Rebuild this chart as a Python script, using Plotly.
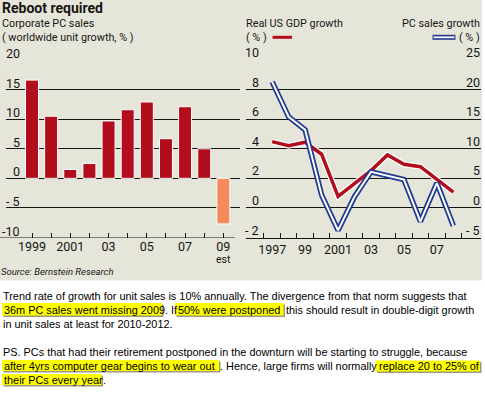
import plotly.graph_objects as go

W, H = 485, 394

# ---------------- data ----------------
bar_years = [1999, 2000, 2001, 2002, 2003, 2004, 2005, 2006, 2007, 2008, 2009]
corp_pc_sales = [16.6, 10.5, 1.5, 2.5, 9.7, 11.6, 12.9, 6.7, 12.1, 5.0, -7.7]
bar_ticktext = ["1999", "", "2001", "", "03", "", "05", "", "07", "", "09"]

line_years = [1997, 1998, 1999, 2000, 2001, 2002, 2003, 2004, 2005, 2006, 2007, 2008]
us_gdp_growth = [4.48, 4.2, 4.44, 3.63, 0.78, 1.68, 2.52, 3.58, 2.95, 2.79, 1.96, 1.06]
pc_sales_growth = [21.3, 15.4, 13.2, 2.2, -3.8, 1.9, 6.1, 5.45, 4.8, -2.3, 4.2, -3.0]
line_tickvals = [1997, 1999, 2001, 2003, 2005, 2007]
line_ticktext = ["1997", "99", "2001", "03", "05", "07"]

left_y_vals = [20, 15, 10, 5, 0, -5, -10]
left_y_text = ["20", "15", "10", "5", "0", "- 5", "-10"]
gdp_y_vals = [10, 8, 6, 4, 2, 0, -2]
gdp_y_text = ["10", "8", "6", "4", "2", "0", "- 2"]
pc_y_vals = [25, 20, 15, 10, 5, 0, -5]
pc_y_text = ["25", "20", "15", "10", "5", "0", "- 5"]

# ---------------- style ----------------
BEIGE = "#E6E5D9"
RED = "#B20D1D"
SALMON = "#F58A5A"
BLUE = "#1F3A8E"
INK = "#151515"
CF = "Roboto, Liberation Sans, Arial, sans-serif"
TF = "Liberation Sans, Arial, sans-serif"

def px(x):
    return x / W

def py(y):
    return 1 - y / H

bar_colors = [RED] * (len(bar_years) - 1) + [SALMON]

fig = go.Figure()
fig.add_bar(x=bar_years, y=corp_pc_sales, marker=dict(color=bar_colors, line=dict(color="white", width=1)),
            width=0.68, xaxis="x", yaxis="y", hoverinfo="skip")
fig.add_scatter(x=line_years, y=pc_sales_growth, mode="lines", line=dict(color=BLUE, width=5.5),
                xaxis="x2", yaxis="y3", hoverinfo="skip")
fig.add_scatter(x=line_years, y=pc_sales_growth, mode="lines", line=dict(color="white", width=2),
                xaxis="x2", yaxis="y3", hoverinfo="skip")
fig.add_scatter(x=line_years, y=us_gdp_growth, mode="lines", line=dict(color="white", width=6),
                xaxis="x2", yaxis="y2", hoverinfo="skip")
fig.add_scatter(x=line_years, y=us_gdp_growth, mode="lines", line=dict(color=RED, width=3.5),
                xaxis="x2", yaxis="y2", hoverinfo="skip")

ydom = [py(237.5), py(60)]
fig.update_layout(
    width=W, height=H, autosize=False,
    margin=dict(l=0, r=0, t=0, b=0),
    paper_bgcolor="white", plot_bgcolor="rgba(0,0,0,0)",
    showlegend=False, bargap=0,
    font=dict(family=CF, color=INK, size=12.5),
    xaxis=dict(domain=[px(6), px(240)], range=[1997.64, 2009.87], anchor="y",
               tickmode="array", tickvals=bar_years, ticktext=bar_ticktext,
               ticks="inside", ticklen=5, tickcolor=INK, tickwidth=1,
               showline=False, showgrid=False, zeroline=False,
               tickfont=dict(size=12.5, family=CF, color=INK)),
    yaxis=dict(domain=ydom, range=[-10, 20], anchor="x",
               tickmode="array", tickvals=[-5, 0, 5, 10, 15, 20],
               showticklabels=False, showgrid=True, gridcolor=INK, gridwidth=1,
               zeroline=False, ticks=""),
    xaxis2=dict(domain=[px(246), px(481)], range=[1995.41, 2009.68], anchor="y2",
                tickmode="array", tickvals=line_tickvals, ticktext=line_ticktext,
                ticks="", showline=True, linecolor=INK, linewidth=1,
                showgrid=False, zeroline=False,
                minor=dict(tickmode="array", tickvals=[y - 0.5 for y in line_years] + [2008.5],
                           ticks="inside", ticklen=5, tickcolor=INK, tickwidth=1, showgrid=False),
                tickfont=dict(size=12.5, family=CF, color=INK)),
    yaxis2=dict(domain=ydom, range=[-2, 10], anchor="x2",
                tickmode="array", tickvals=[0, 2, 4, 6, 8, 10],
                showticklabels=False, showgrid=True, gridcolor=INK, gridwidth=1,
                zeroline=False, ticks=""),
    yaxis3=dict(range=[-5, 25], overlaying="y2", side="right", anchor="x2",
                showticklabels=False, showgrid=False, zeroline=False, ticks=""),
)

shapes = []
# beige chart panel
shapes.append(dict(type="rect", xref="paper", yref="paper", x0=0, x1=px(482), y0=py(280.5), y1=1,
                   fillcolor=BEIGE, line=dict(width=0), layer="below"))
# left chart baseline
shapes.append(dict(type="line", xref="paper", yref="y", x0=0, x1=px(235), y0=-10, y1=-10,
                   line=dict(color=INK, width=1)))
# legend keys
shapes.append(dict(type="line", xref="paper", yref="paper", x0=px(272.5), x1=px(292), y0=py(37.3), y1=py(37.3),
                   line=dict(color=RED, width=3)))
shapes.append(dict(type="line", xref="paper", yref="paper", x0=px(432.5), x1=px(455.5), y0=py(37.3), y1=py(37.3),
                   line=dict(color=BLUE, width=5)))
shapes.append(dict(type="line", xref="paper", yref="paper", x0=px(433.5), x1=px(454.5), y0=py(37.3), y1=py(37.3),
                   line=dict(color="white", width=1.8)))
# yellow highlights (with soft shadow)
highlights = [(2, 162, 303, 315.5), (175, 283.5, 303, 315.5), (2, 219, 360, 371),
              (375.5, 480, 360.5, 371.5), (2, 101.5, 374, 385)]
for x0, x1, y0, y1 in highlights:
    shapes.append(dict(type="rect", xref="paper", yref="paper", x0=px(x0 + 1.5), x1=px(x1 + 1.5),
                       y0=py(y1 + 1.5), y1=py(y0 + 1.5), fillcolor="#9a9a80", line=dict(width=0), layer="below"))
    shapes.append(dict(type="rect", xref="paper", yref="paper", x0=px(x0), x1=px(x1),
                       y0=py(y1), y1=py(y0), fillcolor="#FFFF00", line=dict(width=0), layer="below"))
fig.update_layout(shapes=shapes)

ann = []
def txt(x, y, s, size, anchor="left", fam=CF, yanchor="middle", **kw):
    ann.append(dict(x=px(x), y=py(y), xref="paper", yref="paper", text=s, showarrow=False,
                    xanchor=anchor, yanchor=yanchor, borderpad=0,
                    font=dict(size=size, family=fam, color=kw.pop("color", INK)), **kw))

# headings
txt(1, 8.5, "<b>Reboot required</b>", 14)
txt(0.5, 23.5, "Corporate PC sales", 10.8)
txt(0.5, 37.5, "( worldwide unit growth, % )", 10.8)
txt(244.5, 23.5, "Real US GDP growth", 10.8)
txt(244.5, 37, "( % )", 10.8)
txt(481, 23.5, "PC sales growth", 10.8, anchor="right")
txt(481, 37, "( % )", 10.8, anchor="right")
txt(0, 271, "<i>Source: Bernstein Research</i>", 9.5)
# "est" under 09
ann.append(dict(x=2009, y=py(259), xref="x", yref="paper", text="est", showarrow=False,
                xanchor="center", yanchor="middle", borderpad=0,
                font=dict(size=10.5, family=CF, color=INK)))

# y tick labels (above gridlines)
for v, t in zip(left_y_vals, left_y_text):
    ann.append(dict(x=px(20.5), y=v, xref="paper", yref="y", text=t, showarrow=False,
                    xanchor="right", yanchor="bottom", yshift=-2, borderpad=0,
                    font=dict(size=12.5, family=CF, color=INK)))
for v, t in zip(gdp_y_vals, gdp_y_text):
    ann.append(dict(x=px(259.5), y=v, xref="paper", yref="y2", text=t, showarrow=False,
                    xanchor="right", yanchor="bottom", yshift=-1, borderpad=0,
                    font=dict(size=12.5, family=CF, color=INK)))
for v, t in zip(pc_y_vals, pc_y_text):
    ann.append(dict(x=px(481), y=v, xref="paper", yref="y3", text=t, showarrow=False,
                    xanchor="right", yanchor="bottom", yshift=-1, borderpad=0,
                    font=dict(size=12.5, family=CF, color=INK)))

# body text
BS = 10.9
BC = "#000000"
txt(1.5, 296, "Trend rate of growth for unit sales is 10% annually. The divergence from that norm suggests that", BS, fam=TF, color=BC)
txt(2.5, 309.5, "36m PC sales went missing 2009", BS, fam=TF, color=BC)
txt(163.5, 309.5, ". If", BS, fam=TF, color=BC)
txt(177, 309.5, "50% were postponed", BS, fam=TF, color=BC)
txt(285, 309.5, "this should result in double-digit growth", BS, fam=TF, color=BC)
txt(1.5, 323.5, "in unit sales at least for 2010-2012.", BS, fam=TF, color=BC)
txt(1.5, 351.5, "PS. PCs that had their retirement postponed in the downturn will be starting to struggle, because", BS, fam=TF, color=BC)
txt(2.5, 365.5, "after 4yrs computer gear begins to wear out", BS, fam=TF, color=BC)
txt(218.5, 365.5, ". Hence, large firms will normally", BS, fam=TF, color=BC)
txt(378, 365.5, "replace 20 to 25% of", BS, fam=TF, color=BC)
txt(2.5, 379.5, "their PCs every year", BS, fam=TF, color=BC)
txt(101.5, 379.5, ".", BS, fam=TF, color=BC)

fig.update_layout(annotations=ann)
fig.write_html("out.html", config={"displayModeBar": False, "staticPlot": True},
               post_script="document.body.style.margin='0';document.body.style.overflow='hidden';")
